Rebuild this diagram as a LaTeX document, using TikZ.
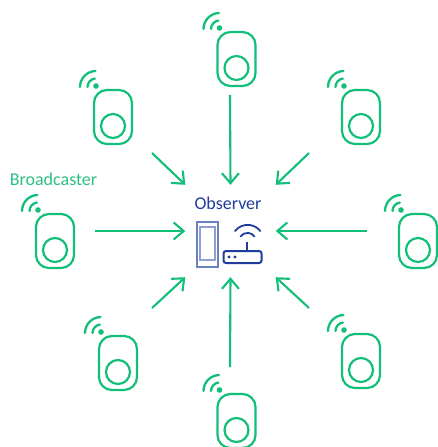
\documentclass[tikz,border=0pt]{standalone}
\usepackage{fontspec}
\setmainfont{Carlito}
\usetikzlibrary{arrows.meta}
\definecolor{bgreen}{HTML}{12BF78}
\definecolor{tgreen}{HTML}{2CC084}
\definecolor{oblue}{HTML}{1F3C9C}
\definecolor{pblue}{HTML}{6A80BF}
\definecolor{pblue2}{HTML}{8FA0CF}
\tikzset{
  x=1pt,y=-1pt,
  beaconbody/.style={draw=bgreen,line width=2.2pt,rounded corners=13pt},
  beaconwave/.style={draw=bgreen,line width=2.3pt,line cap=round},
  beacon/.pic={
    \draw[beaconbody] (-19,-27) rectangle (19,27);
    \draw[beaconbody] (0,9) circle[radius=12];
    \fill[bgreen] (-17,-31) circle[radius=2.8];
    \draw[beaconwave] (-25.5,-30) arc[start angle=180,end angle=262,radius=8.5];
    \draw[beaconwave] (-33,-30) arc[start angle=180,end angle=268,radius=16];
  },
  beaconbox/.style={inner sep=0pt,minimum width=38pt,minimum height=54pt},
  link/.style={draw=bgreen,line width=2.1pt,-{Straight Barb[length=10pt,width=17pt,line width=2.1pt]}},
  hub/.style={inner sep=0pt,minimum width=90pt,minimum height=92pt},
  lbl/.style={font=\fontsize{18}{20}\selectfont,inner sep=0pt},
}
\begin{document}
\begin{tikzpicture}
\useasboundingbox (0,0) rectangle (437,447);
\fill[white] (0,0) rectangle (437,447);
% beacons
\foreach \n/\px/\py in {bt/236.5/59,btl/113/117,btr/361/117,bl/55/241,br/418/241,bbl/118/363,bbr/361/361,bb/236.5/421}{
  \node[beaconbox] (\n) at (\px,\py) {};
  \pic at (\n.center) {beacon};
}
% observer
\node[hub] (hub) at (230.5,231) {};
\node[lbl,text=oblue] (obs) at (228,203) {Observer};
\node[lbl,text=tgreen] (bc) at (53.5,179) {Broadcaster};
% phone
\draw[pblue,line width=1.4pt] (197,222) rectangle (218,267);
\draw[pblue2,line width=1.6pt] (200,227) rectangle (215,260);
% router
\draw[oblue,line width=2pt,rounded corners=2.5pt] (223.5,251) rectangle (261.5,263);
\draw[oblue,line width=1.8pt] (247,242) -- (247,251);
\draw[oblue,line width=1.8pt,line cap=round] (240.5,236.5) arc[start angle=215,end angle=325,radius=8.5];
\draw[oblue,line width=1.8pt,line cap=round] (235,231) arc[start angle=218,end angle=322,radius=16];
\fill[oblue] (229,257) circle[radius=1.6] (235,257) circle[radius=1.6];
% start points of the arrows
\coordinate (s1) at (230,95);
\coordinate (s2) at (152,153);
\coordinate (s3) at (309,153);
\coordinate (s4) at (95,231);
\coordinate (s5) at (367,231);
\coordinate (s6) at (152,308);
\coordinate (s7) at (309,308);
\coordinate (s8) at (230,367);
% connectors
\draw[link] (s1) -- (hub.north);
\draw[link] (s2) -- (hub.north west);
\draw[link] (s3) -- (hub.north east);
\draw[link] (s4) -- (hub.west);
\draw[link] (s5) -- (hub.east);
\draw[link] (s6) -- (hub.south west);
\draw[link] (s7) -- (hub.south east);
\draw[link] (s8) -- (hub.south);
\end{tikzpicture}
\end{document}
